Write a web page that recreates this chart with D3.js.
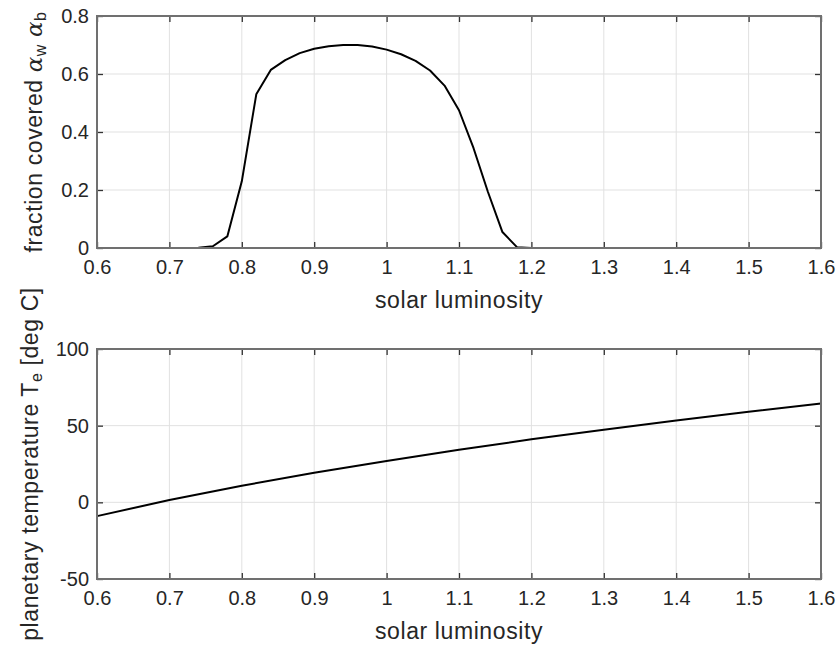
<!DOCTYPE html>
<html>
<head>
<meta charset="utf-8">
<script src="https://cdn.jsdelivr.net/npm/d3@7"></script>
<style>
  body { margin: 0; background: #fff; }
  svg { display: block; }
  text { font-family: "Liberation Sans", Arial, Helvetica, sans-serif; fill: #262626; }
</style>
</head>
<body>
<div id="chart"></div>
<script>
// ========================================
// DATA
// ========================================

// top panel: fraction covered by daisies
const lumCover = [0.60, 0.70, 0.72, 0.74, 0.76, 0.78, 0.80, 0.82, 0.84, 0.86, 0.88, 0.90,
                  0.92, 0.94, 0.96, 0.98, 1.00, 1.02, 1.04, 1.06, 1.08, 1.10, 1.12, 1.14,
                  1.16, 1.18, 1.20, 1.60];
const cover = [0, 0, 0, 0.001, 0.006, 0.04, 0.23, 0.53, 0.614, 0.648, 0.672, 0.687,
               0.696, 0.700, 0.700, 0.695, 0.684, 0.668, 0.645, 0.612, 0.560, 0.475, 0.345, 0.193,
               0.055, 0.003, 0, 0];

// bottom panel: planetary temperature
const lumTemp = [0.6, 0.7, 0.8, 0.9, 1.0, 1.1, 1.2, 1.3, 1.4, 1.5, 1.6];
const temp = [-9, 1.5, 10.8, 19.3, 27, 34.3, 41.1, 47.4, 53.4, 59.1, 64.5];

const xTicks = [0.6, 0.7, 0.8, 0.9, 1.0, 1.1, 1.2, 1.3, 1.4, 1.5, 1.6];
const coverTicks = [0, 0.2, 0.4, 0.6, 0.8];
const tempTicks = [-50, 0, 50, 100];

// ========================================
// LAYOUT
// ========================================

const W = 838, H = 650;
const left = 97, right = 821;
const tickFont = 20, labelFont = 23;

const svg = d3.select("#chart").append("svg")
    .attr("width", W)
    .attr("height", H);

const fmt = d => String(+d.toFixed(2));

function drawPanel(opts) {
    const { top, bottom, xs, ys, yDomain, yTicks, label } = opts;

    const x = d3.scaleLinear().domain([0.6, 1.6]).range([left, right]);
    const y = d3.scaleLinear().domain(yDomain).range([bottom, top]);

    const g = svg.append("g");

    // grid
    g.append("g").selectAll("line").data(xTicks).join("line")
        .attr("x1", d => x(d)).attr("x2", d => x(d))
        .attr("y1", top).attr("y2", bottom)
        .attr("stroke", "#e1e1e1").attr("stroke-width", 1);
    g.append("g").selectAll("line").data(yTicks).join("line")
        .attr("x1", left).attr("x2", right)
        .attr("y1", d => y(d)).attr("y2", d => y(d))
        .attr("stroke", "#e1e1e1").attr("stroke-width", 1);

    // data line
    const line = d3.line()
        .x((d, i) => x(xs[i]))
        .y((d, i) => y(ys[i]));
    g.append("path")
        .datum(ys)
        .attr("d", line)
        .attr("fill", "none")
        .attr("stroke", "#000")
        .attr("stroke-width", 2)
        .attr("stroke-linejoin", "round");

    // axes (ticks inward, mirrored on top / right)
    const tickLen = 6;
    const axB = g.append("g").attr("transform", `translate(0,${bottom})`)
        .call(d3.axisBottom(x).tickValues(xTicks).tickFormat(fmt).tickSizeInner(-tickLen).tickSizeOuter(0).tickPadding(12));
    const axT = g.append("g").attr("transform", `translate(0,${top})`)
        .call(d3.axisTop(x).tickValues(xTicks).tickFormat("").tickSizeInner(-tickLen).tickSizeOuter(0));
    const axL = g.append("g").attr("transform", `translate(${left},0)`)
        .call(d3.axisLeft(y).tickValues(yTicks).tickFormat(fmt).tickSizeInner(-tickLen).tickSizeOuter(0).tickPadding(8));
    const axR = g.append("g").attr("transform", `translate(${right},0)`)
        .call(d3.axisRight(y).tickValues(yTicks).tickFormat("").tickSizeInner(-tickLen).tickSizeOuter(0));

    [axB, axT, axL, axR].forEach(ax => {
        ax.select(".domain").remove();
        ax.selectAll(".tick line").attr("stroke", "#333").attr("stroke-width", 1.3);
        ax.selectAll("text").attr("font-size", tickFont).attr("fill", "#3a3a3a")
            .style("font-family", "'Liberation Sans', Arial, sans-serif");
    });

    // box
    g.append("rect")
        .attr("x", left).attr("y", top)
        .attr("width", right - left).attr("height", bottom - top)
        .attr("fill", "none")
        .attr("stroke", "#707070")
        .attr("stroke-width", 2);

    // x label
    g.append("text")
        .attr("x", (left + right) / 2)
        .attr("y", bottom + 60)
        .attr("text-anchor", "middle")
        .attr("font-size", labelFont)
        .attr("letter-spacing", 0.6)
        .attr("fill", "#3a3a3a")
        .text("solar luminosity");

    // y label
    const yl = g.append("text")
        .attr("transform", `translate(${opts.labelX},${(top + bottom) / 2}) rotate(-90)`)
        .attr("text-anchor", "middle")
        .attr("font-size", labelFont)
        .attr("letter-spacing", 0.6)
        .attr("fill", "#3a3a3a");
    label(yl);
}

drawPanel({
    top: 16, bottom: 248, xs: lumCover, ys: cover,
    yDomain: [0, 0.8], yTicks: coverTicks, labelX: 42,
    label: t => {
        t.append("tspan").text("fraction covered ");
        t.append("tspan").attr("font-family", "'DejaVu Serif', serif").attr("font-style", "italic").text("α");
        t.append("tspan").attr("baseline-shift", "-25%").attr("font-size", 16).text("w");
        t.append("tspan").text(" ");
        t.append("tspan").attr("font-family", "'DejaVu Serif', serif").attr("font-style", "italic").text("α");
        t.append("tspan").attr("baseline-shift", "-25%").attr("font-size", 16).text("b");
    }
});

drawPanel({
    top: 349, bottom: 579, xs: lumTemp, ys: temp,
    yDomain: [-50, 100], yTicks: tempTicks, labelX: 38,
    label: t => {
        t.append("tspan").text("planetary temperature T");
        t.append("tspan").attr("baseline-shift", "-25%").attr("font-size", 16).text("e");
        t.append("tspan").text(" [deg C]");
    }
});
</script>
</body>
</html>
